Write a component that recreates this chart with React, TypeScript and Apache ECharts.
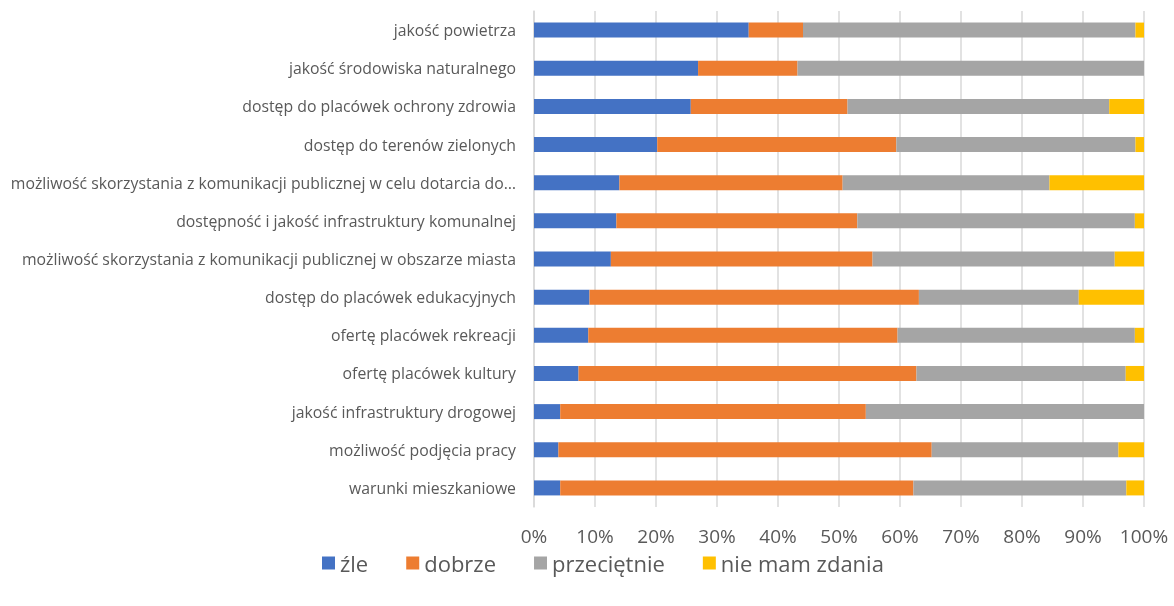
import React, { useEffect, useRef } from "react";
import * as echarts from "echarts";

const categories = [
  "jakość powietrza",
  "jakość środowiska naturalnego",
  "dostęp do placówek ochrony zdrowia",
  "dostęp do terenów zielonych",
  "możliwość skorzystania z komunikacji publicznej w celu dotarcia do…",
  "dostępność i jakość infrastruktury komunalnej",
  "możliwość skorzystania z komunikacji publicznej w obszarze miasta",
  "dostęp do placówek edukacyjnych",
  "ofertę placówek rekreacji",
  "ofertę placówek kultury",
  "jakość infrastruktury drogowej",
  "możliwość podjęcia pracy",
  "warunki mieszkaniowe",
];

const zle = [35.2, 26.9, 25.7, 20.2, 14.0, 13.5, 12.6, 9.1, 8.9, 7.3, 4.3, 4.0, 4.3];
const dobrze = [8.9, 16.3, 25.7, 39.2, 36.6, 39.5, 42.9, 54.0, 50.7, 55.4, 50.1, 61.2, 57.9];
const przecietnie = [54.5, 56.8, 42.9, 39.2, 33.9, 45.5, 39.7, 26.2, 38.9, 34.3, 45.6, 30.6, 34.9];
const nieMamZdania = [1.4, 0, 5.7, 1.4, 15.5, 1.5, 4.8, 10.7, 1.5, 3.0, 0, 4.2, 2.9];

const seriesNames = ["źle", "dobrze", "przeciętnie", "nie mam zdania"];
const colors = ["#4472C4", "#ED7D31", "#A5A5A5", "#FFC000"];

const FONT = "'Open Sans', 'Noto Sans', sans-serif";

export default function App() {
  const ref = useRef<HTMLDivElement>(null);
  useEffect(() => {
    if (!ref.current) return;
    const chart = echarts.init(ref.current, undefined, { renderer: "svg" });
    const data = [zle, dobrze, przecietnie, nieMamZdania];
    chart.setOption({
      animation: false,
      color: colors,
      textStyle: { fontFamily: FONT },
      grid: { left: 534, right: 30, top: 11, bottom: 99, containLabel: false },
      legend: {
        bottom: 27,
        left: 317,
        itemWidth: 13,
        itemHeight: 13,
        itemGap: 38,
        icon: "rect",
        textStyle: { fontSize: 22, color: "#595959", fontFamily: FONT },
        data: seriesNames,
      },
      xAxis: {
        type: "value",
        min: 0,
        max: 100,
        interval: 10,
        axisLine: { show: false },
        axisTick: { show: false },
        splitLine: { lineStyle: { color: "#d9d9d9", width: 1.5 } },
        axisLabel: {
          formatter: "{value}%",
          fontSize: 19,
          color: "#595959",
          margin: 19,
          fontFamily: FONT,
        },
      },
      yAxis: {
        type: "category",
        inverse: true,
        data: categories,
        axisLine: { show: true, lineStyle: { color: "#d9d9d9", width: 1.5 } },
        axisTick: { show: false },
        axisLabel: { fontSize: 15.8, color: "#595959", margin: 18, fontFamily: FONT },
      },
      series: seriesNames.map((name, i) => ({
        name,
        type: "bar",
        stack: "total",
        barWidth: 15,
        data: data[i],
        itemStyle: { color: colors[i] },
      })),
    });
    return () => chart.dispose();
  }, []);
  return (
    <div
      ref={ref}
      style={{ position: "fixed", left: 0, top: 0, width: 1174, height: 606 }}
    />
  );
}
